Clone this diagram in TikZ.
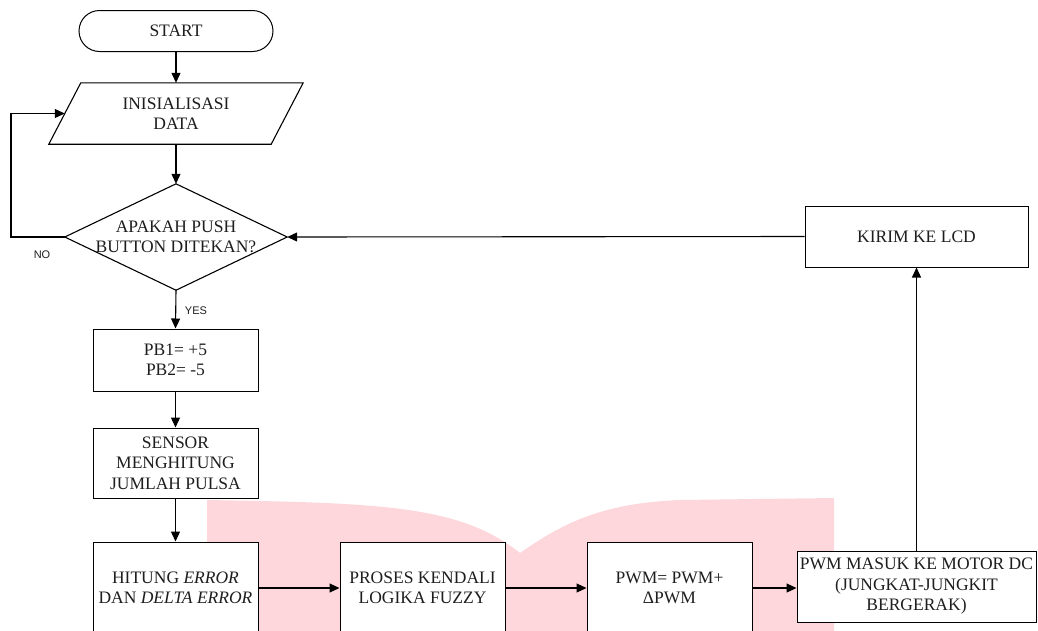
\documentclass[tikz,border=0pt]{standalone}
\usepackage{fontspec}
\setmainfont{Liberation Serif}
\newfontfamily\labfont{Liberation Sans}
\usetikzlibrary{arrows.meta,shapes.misc}
\definecolor{wmpink}{RGB}{253,215,219}
\definecolor{txt}{RGB}{30,30,30}
\begin{document}
\begin{tikzpicture}[x=1pt,y=-1pt,
  every node/.style={font=\fontsize{17.5}{20.5}\selectfont, text=txt, align=center, inner sep=0pt},
  box/.style={draw, fill=white, line width=1pt, rectangle, minimum width=165pt},
  term/.style={draw, fill=white, line width=1pt, rounded rectangle, minimum width=194pt, minimum height=41pt},
  lab/.style={font=\labfont\fontsize{11}{13}\selectfont},
  arr/.style={line width=1.1pt, -{Triangle[length=10pt,width=9pt]}},
  ln/.style={line width=1.1pt}]
\clip (0,0) rectangle (1038,630);
% watermark shape
\fill[wmpink] (207,640) -- (207,500) .. controls (380,503) and (460,505) .. (520,553)
  .. controls (560,525) and (600,503) .. (680,500) -- (834,498) -- (834,640) -- cycle;
% nodes
\node[term] (start) at (176,31) {START};
\node[minimum width=222pt, minimum height=61pt] (init) at (176,113.5) {};
\draw[ln, fill=white] ([xshift=16pt]init.north west) -- ([xshift=16pt]init.north east)
  -- ([xshift=-16pt]init.south east) -- ([xshift=-16pt]init.south west) -- cycle;
\node (initt) at (init.center) {INISIALISASI\\DATA};
\node[minimum width=222pt, minimum height=106pt] (dec) at (176,237) {};
\draw[ln, fill=white] (dec.north) -- (dec.east) -- (dec.south) -- (dec.west) -- cycle;
\node (dect) at (dec.center) {APAKAH PUSH\\BUTTON DITEKAN?};
\node[box, minimum height=62pt] (pb) at (175.5,360) {PB1= +5\\PB2= -5};
\node[box, minimum height=70pt] (sens) at (175.5,463) {SENSOR\\MENGHITUNG\\JUMLAH PULSA};
\node[box, minimum height=92pt] (hit) at (175.5,588) {HITUNG \textit{ERROR}\\DAN \textit{DELTA ERROR}};
\node[box, minimum height=92pt] (pro) at (422.5,588) {PROSES KENDALI\\LOGIKA FUZZY};
\node[box, minimum height=92pt] (pwm) at (669.5,588) {PWM= PWM+\\ΔPWM};
\node[box, minimum width=239pt, minimum height=71pt] (motor) at (916.5,586.5) {PWM MASUK KE MOTOR DC\\(JUNGKAT-JUNGKIT\\BERGERAK)};
\node[box, minimum width=223pt, minimum height=61pt] (lcd) at (916.5,236.5) {KIRIM KE LCD};
\node[lab] (nolab) at (42,255) {NO};
\node[lab] (yeslab) at (196,311) {YES};
\coordinate (noL) at (11,237);
% connectors
\draw[arr] (start.south) -- (init.north);
\draw[arr] (init.south) -- (dec.north);
\draw[arr] (dec.west) -- (noL) |- (init.west);
\draw[arr] (dec.south) -- (pb.north);
\draw[arr] (pb.south) -- (sens.north);
\draw[arr] (sens.south) -- (hit.north);
\draw[arr] (hit.east) -- (pro.west);
\draw[arr] (pro.east) -- (pwm.west);
\draw[arr] (pwm.east) -- (pwm.east -| motor.west);
\draw[arr] (motor.north) -- (lcd.south);
\draw[arr] (lcd.west) -- (dec.east);
\end{tikzpicture}
\end{document}
